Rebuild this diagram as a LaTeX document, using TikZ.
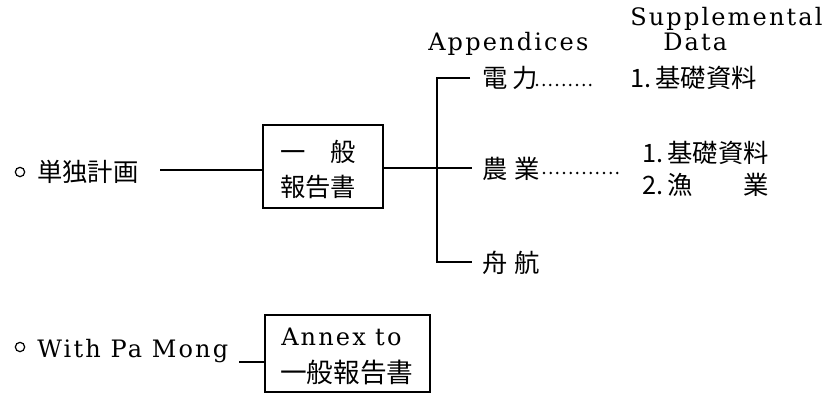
\documentclass[tikz,border=0pt]{standalone}
\usepackage{fontspec}
\newfontfamily\jp{Noto Sans CJK JP}
\newfontfamily\lsf[LetterSpace=9]{DejaVu Serif}
\tikzset{
  jpt/.style={font=\jp\fontsize{19}{26}\selectfont, inner sep=0pt, anchor=west},
  ent/.style={font=\lsf\fontsize{18}{22}\selectfont, inner sep=0pt, anchor=base west},
  ln/.style={line width=1.2pt},
  vln/.style={line width=1.6pt},
  dotl/.style={line width=2.1pt, dash pattern=on 0pt off 5pt, line cap=round},
  bul/.style={draw, circle, inner sep=0pt, minimum size=7pt, line width=0.9pt},
  boxn/.style={draw, line width=1.2pt, inner sep=0pt},
}
\begin{document}
\begin{tikzpicture}[x=0.75pt,y=-0.75pt]
\useasboundingbox (0,0) rectangle (822,394);
% headers
\node[ent] (hA) at (428,50) {Appendices};
\node[ent] (hS) at (630,25) {Supplemental};
\node[ent] (hD) at (663,50) {Data};
% left: single plan
\node[bul] (b1) at (20,172) {};
\node[jpt] (t1) at (37,172) {単独計画};
\coordinate (l1s) at (160,170);
\node[boxn, minimum width=90pt, minimum height=62pt] (box1) at (323,166.5) {};
\node[jpt] (g1) at (280,152) {\makebox[3em]{一\hfill 般}};
\node[jpt] (g2) at (280,187) {報告書};
\draw[ln] (l1s) -- (l1s -| box1.west);
% branch
\coordinate (J) at (437,168);
\coordinate (Jt) at (437,78);
\coordinate (Jb) at (437,262);
\coordinate (e1) at (470,78);
\coordinate (e2) at (472,168);
\coordinate (e3) at (472,262);
\draw[ln] (box1.east |- J) -- (J);
\draw[vln] (e1) -- (Jt) -- (Jb) -- (e3);
\draw[ln] (J) -- (e2);
% appendices
\node[jpt] (a1) at (482,78) {電\hspace{4pt}力};
\node[jpt] (a2) at (482,169) {農\hspace{5pt}業};
\node[jpt] (a3) at (482,263) {舟\hspace{5pt}航};
% supplemental data
\node[jpt] (s1) at (630,78) {1.\,基礎資料};
\node[jpt] (s2) at (642,153) {1.\,基礎資料};
\node[jpt] (s3) at (642,185) {2.\,\makebox[4em]{漁\hfill 業}};
% leaders
\coordinate (d1s) at (537,85);
\coordinate (d1e) at (591,85);
\coordinate (d2s) at (544,173);
\coordinate (d2e) at (619,173);
\draw[dotl] (d1s) -- (d1e);
\draw[dotl] (d2s) -- (d2e);
% with Pa Mong
\node[bul] (b2) at (20,347) {};
\node[ent] (t2) at (37,357) {With Pa Mong};
\coordinate (l2s) at (239,362);
\node[boxn, minimum width=123.75pt, minimum height=57.75pt] (box2) at (347.5,353.5) {};
\node[ent] (x1) at (281,345) {Annex\hspace{7pt}to};
\node[jpt, font=\jp\fontsize{20}{24}\selectfont] (x2) at (280,372) {一般報告書};
\draw[ln] (l2s) -- (l2s -| box2.west);
\end{tikzpicture}
\end{document}
